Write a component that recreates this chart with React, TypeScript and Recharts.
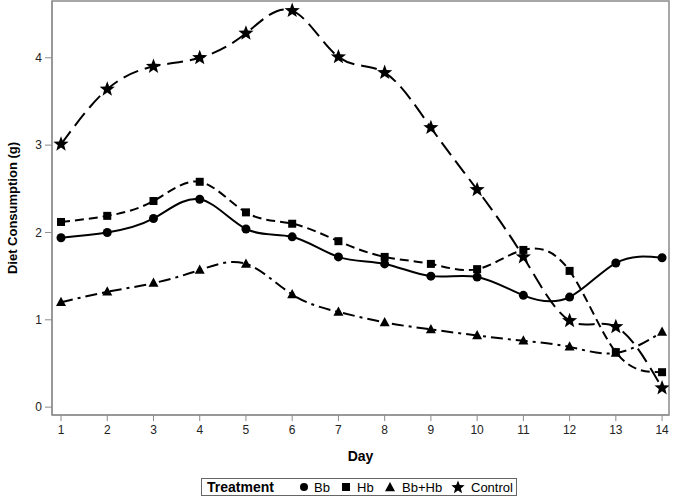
import React from 'react';
import { LineChart, Line, XAxis, YAxis, ReferenceArea } from 'recharts';

const days = [1, 2, 3, 4, 5, 6, 7, 8, 9, 10, 11, 12, 13, 14];
const bb = [1.94, 2.0, 2.16, 2.38, 2.04, 1.95, 1.72, 1.64, 1.5, 1.49, 1.28, 1.26, 1.65, 1.71];
const hb = [2.12, 2.19, 2.36, 2.58, 2.23, 2.1, 1.9, 1.72, 1.64, 1.58, 1.8, 1.56, 0.63, 0.4];
const bbhb = [1.2, 1.32, 1.42, 1.57, 1.64, 1.29, 1.09, 0.97, 0.89, 0.82, 0.76, 0.69, 0.62, 0.86];
const control = [3.01, 3.64, 3.9, 4.0, 4.28, 4.54, 4.01, 3.83, 3.2, 2.49, 1.72, 0.99, 0.92, 0.22];
const yTicks = [0, 1, 2, 3, 4];
const legendTitle = 'Treatment';
const seriesNames = ['Bb', 'Hb', 'Bb+Hb', 'Control'];

const data = days.map((d, i) => ({ day: d, bb: bb[i], hb: hb[i], bbhb: bbhb[i], control: control[i] }));

const FONT = '"Liberation Sans", Arial, sans-serif';
const AXIS = '#8a8a8a';

function starPath(cx: number, cy: number, R: number, r: number) {
  let p = '';
  for (let i = 0; i < 10; i++) {
    const rad = i % 2 === 0 ? R : r;
    const a = -Math.PI / 2 + (i * Math.PI) / 5;
    p += (i === 0 ? 'M' : 'L') + (cx + rad * Math.cos(a)).toFixed(2) + ',' + (cy + rad * Math.sin(a)).toFixed(2);
  }
  return p + 'Z';
}
function triPath(cx: number, cy: number, s: number) {
  return `M${cx},${cy - s * 1.1}L${cx + s},${cy + s * 0.75}L${cx - s},${cy + s * 0.75}Z`;
}

const Circle = (s: number) => (props: any) => (
  <circle key={props.key ?? `c${props.index}`} cx={props.cx} cy={props.cy} r={s} fill="#000" />
);
const Square = (s: number) => (props: any) => (
  <rect key={props.key ?? `s${props.index}`} x={props.cx - s} y={props.cy - s} width={2 * s} height={2 * s} fill="#000" />
);
const Tri = (s: number) => (props: any) => (
  <path key={props.key ?? `t${props.index}`} d={triPath(props.cx, props.cy, s)} fill="#000" />
);
const Star = (R: number) => (props: any) => (
  <path key={props.key ?? `st${props.index}`} d={starPath(props.cx, props.cy, R, R * 0.42)} fill="#000" />
);

const YLabel = (props: any) => {
  const vb = props.viewBox || { x: 0, y: 1, width: 52, height: 414 };
  const x = vb.x + 12;
  const y = vb.y + vb.height / 2;
  return (
    <text x={x} y={y} transform={`rotate(-90, ${x}, ${y})`} textAnchor="middle" dominantBaseline="central"
      fontFamily={FONT} fontWeight="bold" fontSize={13} fill="#000">
      Diet Consumption (g)
    </text>
  );
};

function LegendBox() {
  const cy = 487;
  const ty = 491.5;
  return (
    <svg width={675} height={500} style={{ position: 'absolute', left: 0, top: 0, pointerEvents: 'none' }}>
      <rect x={201.5} y={478.5} width={315} height={17} fill="#fff" stroke="#666" strokeWidth={1} />
      <text x={207} y={ty} fontFamily={FONT} fontWeight="bold" fontSize={14} fill="#000">{legendTitle}</text>
      <circle cx={304} cy={cy} r={4} fill="#000" />
      <text x={314} y={ty} fontFamily={FONT} fontSize={13} fill="#000">{seriesNames[0]}</text>
      <rect x={342} y={cy - 4} width={8} height={8} fill="#000" />
      <text x={357} y={ty} fontFamily={FONT} fontSize={13} fill="#000">{seriesNames[1]}</text>
      <path d={triPath(390, cy + 0.5, 5)} fill="#000" />
      <text x={402} y={ty} fontFamily={FONT} fontSize={13} fill="#000">{seriesNames[2]}</text>
      <path d={starPath(458, cy + 0.5, 7, 3)} fill="#000" />
      <text x={471} y={ty} fontFamily={FONT} fontSize={13} fill="#000">{seriesNames[3]}</text>
    </svg>
  );
}

export default function App() {
  return (
    <div style={{ position: 'absolute', left: 0, top: 0, width: 675, height: 500, background: '#fff' }}>
      <LineChart width={675} height={500} data={data} margin={{ top: 1, right: 6, bottom: 0, left: 0 }}>
        <ReferenceArea x1={0.805} x2={14.15} y1={-0.09} y2={4.65} fill="none" stroke={AXIS} strokeWidth={1.5} ifOverflow="extendDomain" />
        <XAxis
          type="number"
          dataKey="day"
          domain={[0.805, 14.15]}
          ticks={days}
          allowDataOverflow
          height={85}
          stroke={AXIS}
          tickSize={6}
          tickMargin={4}
          tick={{ fontFamily: FONT, fontSize: 12, fill: '#222' }}
          label={{ value: 'Day', position: 'insideTop', offset: 36, fontFamily: FONT, fontWeight: 'bold', fontSize: 14, fill: '#000' }}
        />
        <YAxis
          type="number"
          domain={[-0.09, 4.65]}
          ticks={yTicks}
          allowDataOverflow
          width={52}
          stroke={AXIS}
          tickSize={7}
          tickMargin={3}
          tick={{ fontFamily: FONT, fontSize: 12, fill: '#222' }}
          label={<YLabel />}
        />
        <Line type="natural" dataKey="bb" name={seriesNames[0]} stroke="#000" strokeWidth={2} dot={Circle(4.5)} activeDot={false} isAnimationActive={false} />
        <Line type="natural" dataKey="hb" name={seriesNames[1]} stroke="#000" strokeWidth={2} strokeDasharray="9 5" dot={Square(4)} activeDot={false} isAnimationActive={false} />
        <Line type="natural" dataKey="bbhb" name={seriesNames[2]} stroke="#000" strokeWidth={2} strokeDasharray="12 5 3 5" dot={Tri(5)} activeDot={false} isAnimationActive={false} />
        <Line type="natural" dataKey="control" name={seriesNames[3]} stroke="#000" strokeWidth={2} strokeDasharray="16 7" dot={Star(8)} activeDot={false} isAnimationActive={false} />
      </LineChart>
      <LegendBox />
    </div>
  );
}
